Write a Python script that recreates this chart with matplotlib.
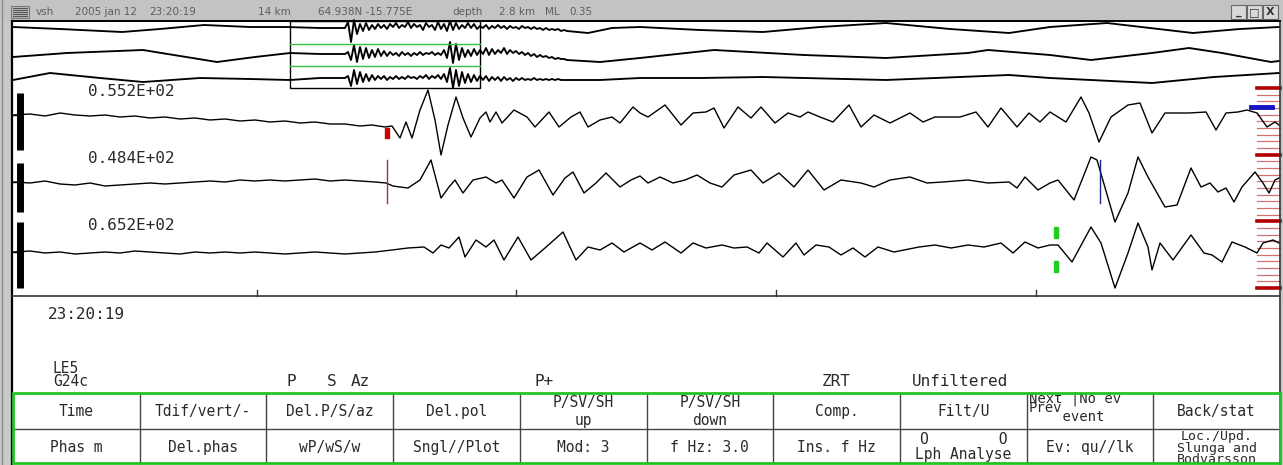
import numpy as np
import matplotlib.pyplot as plt
from matplotlib.patches import Rectangle

W, H = 1283, 465

# header line of the window
header_tokens = ['vsh', '2005 jan 12', '23:20:19', '14 km', '64.938N -15.775E',
                 'depth', '2.8 km', 'ML', '0.35']
header_x = [36, 75, 149, 258, 318, 452, 499, 545, 569]

# overview traces (screen column, screen row)
ov1_x = [13, 60, 122, 160, 204, 250, 286, 320, 339] + list(range(345, 570, 3)) + \
        [588, 612, 640, 700, 763, 820, 886, 950, 1009, 1050, 1107, 1150, 1193, 1240, 1279]
ov1_y = [27, 29, 32, 29, 25, 27, 27, 28, 28,
         28, 22, 42, 20, 34, 24, 31, 23, 30, 25, 29, 24, 28, 25, 29, 24, 27, 23, 28, 25,
         27, 22, 28, 24, 27, 25, 30, 23, 27, 25, 30, 22, 29, 24, 31, 21, 30, 23, 29, 25,
         28, 23, 28, 24, 29, 26, 28, 25, 29, 26, 28, 25, 28, 26, 29, 26, 28, 27, 29, 26,
         28, 27, 29, 27, 29, 28, 30, 28, 30, 29, 30, 29, 31, 30, 31,
         33, 28, 27, 30, 32, 27, 23, 29, 33, 27, 23, 28, 33, 29, 27]

ov2_x = [13, 67, 143, 180, 217, 255, 290, 320, 339] + list(range(345, 570, 3)) + \
        [600, 640, 714, 804, 886, 968, 988, 1050, 1091, 1152, 1189, 1222, 1271, 1279]
ov2_y = [57, 53, 50, 56, 62, 57, 53, 54, 54,
         54, 52, 60, 45, 62, 47, 59, 48, 58, 50, 57, 49, 56, 51, 56, 52, 55, 53, 56, 52,
         55, 53, 56, 53, 55, 52, 55, 53, 54, 52, 55, 53, 55, 50, 58, 42, 63, 44, 60, 48,
         57, 50, 56, 49, 55, 50, 54, 48, 55, 49, 54, 50, 53, 48, 54, 50, 53, 51, 54, 52,
         55, 53, 56, 54, 57, 55, 57, 56, 58, 57, 59, 58, 59, 59, 60,
         62, 58, 50, 55, 58, 53, 50, 55, 60, 53, 48, 53, 62, 61]

ov3_x = [13, 50, 100, 143, 200, 250, 290, 320, 339] + list(range(345, 570, 3)) + \
        [600, 640, 700, 763, 886, 1009, 1050, 1152, 1214, 1279]
ov3_y = [80, 73, 78, 82, 78, 79, 80, 78, 78,
         78, 76, 86, 70, 84, 72, 82, 74, 81, 75, 80, 76, 79, 76, 80, 77, 79, 76, 79, 77,
         79, 76, 78, 77, 79, 76, 78, 75, 79, 76, 78, 75, 79, 74, 82, 68, 88, 70, 86, 72,
         83, 74, 82, 75, 81, 76, 80, 76, 81, 77, 80, 77, 81, 77, 80, 78, 81, 78, 80, 78,
         80, 79, 80, 78, 80, 79, 80, 79, 80, 79, 80, 79, 80, 80, 80,
         80, 78, 78, 77, 80, 75, 78, 83, 77, 73]

# zoomed traces
trz_x = [14, 30, 45, 60, 75, 90, 105, 120, 135, 150, 165, 180, 195, 210, 225, 240, 255, 270,
         285, 300, 315, 330, 345, 360, 372, 385, 392, 400, 406, 412, 420, 428, 435, 441, 448,
         456, 463, 471, 480, 486, 490, 496, 502, 514, 527, 535, 549, 559, 571, 580, 588, 600,
         612, 620, 633, 640, 648, 665, 681, 693, 706, 714, 724, 738, 751, 761, 775, 788, 800,
         808, 820, 833, 849, 861, 874, 890, 910, 923, 935, 960, 976, 988, 1001, 1017, 1029,
         1040, 1050, 1066, 1081, 1089, 1099, 1111, 1128, 1140, 1152, 1165, 1189, 1206, 1216,
         1226, 1238, 1247, 1257, 1267, 1275, 1279]
trz_y = [115, 114, 116, 113, 115, 116, 115, 117, 116, 118, 117, 119, 118, 120, 119, 121, 120,
         122, 121, 123, 122, 124, 124, 126, 125, 127, 126, 138, 122, 138, 110, 90, 120, 155,
         125, 97, 118, 137, 118, 112, 122, 112, 123, 110, 117, 127, 112, 127, 117, 112, 127,
         120, 117, 123, 107, 113, 117, 105, 125, 113, 112, 108, 128, 107, 118, 107, 123, 113,
         117, 112, 117, 122, 105, 127, 115, 123, 113, 122, 117, 117, 112, 127, 108, 127, 113,
         122, 112, 122, 97, 113, 142, 117, 105, 103, 133, 113, 113, 112, 130, 113, 112, 110,
         113, 127, 122, 125]

trr_x = [14, 30, 45, 60, 75, 90, 105, 120, 135, 150, 165, 180, 195, 210, 225, 240, 255, 270,
         285, 300, 315, 330, 345, 360, 375, 386, 393, 400, 408, 420, 431, 441, 449, 455, 463,
         473, 486, 496, 502, 514, 527, 539, 553, 565, 573, 584, 596, 606, 620, 631, 640, 648,
         660, 673, 685, 697, 710, 722, 734, 751, 763, 779, 794, 808, 824, 841, 861, 874, 890,
         910, 927, 943, 968, 988, 1009, 1017, 1025, 1038, 1050, 1058, 1074, 1091, 1097, 1115,
         1128, 1138, 1148, 1165, 1177, 1191, 1201, 1210, 1218, 1226, 1234, 1242, 1255, 1263,
         1269, 1275, 1279]
trr_y = [182, 183, 181, 184, 185, 183, 186, 185, 184, 183, 184, 183, 182, 181, 182, 180, 181,
         180, 181, 180, 179, 181, 180, 181, 182, 183, 186, 187, 188, 180, 160, 198, 187, 180,
         193, 180, 177, 183, 180, 198, 177, 170, 195, 178, 172, 193, 183, 173, 187, 180, 176,
         183, 177, 183, 180, 175, 183, 187, 175, 170, 183, 173, 187, 170, 190, 180, 183, 187,
         180, 177, 183, 182, 180, 183, 182, 188, 177, 190, 183, 180, 200, 157, 160, 222, 193,
         157, 177, 207, 205, 168, 187, 183, 192, 188, 202, 187, 172, 183, 193, 180, 178]

trt_x = [14, 30, 45, 60, 75, 90, 105, 120, 135, 150, 165, 180, 195, 210, 225, 240, 255, 270,
         285, 300, 315, 330, 345, 360, 375, 392, 408, 424, 433, 441, 449, 459, 465, 476, 486,
         494, 504, 518, 531, 545, 563, 576, 588, 600, 612, 624, 640, 652, 665, 681, 693, 706,
         722, 734, 747, 759, 767, 783, 796, 804, 816, 829, 841, 853, 865, 878, 894, 919, 935,
         951, 968, 984, 1001, 1013, 1025, 1038, 1050, 1058, 1072, 1091, 1101, 1115, 1128, 1138,
         1148, 1152, 1160, 1173, 1191, 1204, 1212, 1222, 1232, 1245, 1257, 1263, 1273, 1279]
trt_y = [252, 251, 253, 252, 254, 253, 252, 253, 251, 252, 253, 254, 252, 253, 252, 253, 252,
         253, 254, 253, 252, 253, 254, 253, 252, 250, 248, 247, 253, 245, 248, 237, 257, 240,
         247, 240, 260, 237, 260, 248, 232, 260, 247, 250, 243, 252, 243, 250, 242, 253, 243,
         248, 245, 248, 247, 253, 243, 257, 243, 255, 245, 247, 255, 248, 257, 247, 252, 247,
         245, 248, 245, 247, 243, 253, 242, 248, 245, 245, 262, 227, 243, 288, 253, 223, 247,
         270, 243, 260, 235, 253, 255, 262, 242, 247, 253, 243, 240, 243]

amp_labels = ['0.552E+02', '0.484E+02', '0.652E+02']
time_ticks = [257, 516, 776, 1036]

buttons_row1 = ['Time', 'Tdif/vert/-', 'Del.P/S/az', 'Del.pol', 'P/SV/SH\nup',
                'P/SV/SH\ndown', 'Comp.', 'Filt/U', None, 'Back/stat']
buttons_row2 = ['Phas m', 'Del.phas', 'wP/wS/w', 'Sngl//Plot', 'Mod: 3', 'f Hz: 3.0',
                'Ins. f Hz', 'O        O\nLph Analyse', 'Ev: qu//lk', None]

MONO = 'DejaVu Sans Mono'
INK = '#2a2a2a'
FS_INFO = 11.5
FS_BTN = 10.5

fig = plt.figure(figsize=(W / 100, H / 100), dpi=100)
ax = fig.add_axes([0, 0, 1, 1])
ax.set_xlim(0, W)
ax.set_ylim(H, 0)
ax.axis('off')

# window chrome
ax.add_patch(Rectangle((0, 0), W, H, color='white', zorder=0))
ax.add_patch(Rectangle((0, 0), 11, H, color='#c9c9c9', zorder=1))
ax.plot([2, 2], [0, H], color='#8a8a8a', lw=1, zorder=2)
ax.add_patch(Rectangle((1281, 0), 2, H, color='#c9c9c9', zorder=1))
ax.add_patch(Rectangle((0, 0), W, 20, color='#c3c3c3', zorder=1))
ax.add_patch(Rectangle((11, 6), 18, 12, facecolor='#bdbdbd', edgecolor='#777777', lw=0.8, zorder=2))
for yy in [8.5, 10.5, 12.5, 14.5, 16.5]:
    ax.plot([13, 27], [yy, yy], color='#555555', lw=0.8, zorder=3)
for tok, tx in zip(header_tokens, header_x):
    ax.text(tx, 12, tok, family='DejaVu Sans', fontsize=7.5, color='#5e5e5e', va='center', zorder=3)
for bx, sym in zip([1231, 1247, 1263], ['_', '□', 'X']):
    ax.add_patch(Rectangle((bx, 5), 15, 14, facecolor='#d8d8d8', edgecolor='#666666', lw=0.8, zorder=2))
    ax.text(bx + 7.5, 12, sym, ha='center', va='center', fontsize=8, fontweight='bold',
            color='#333333', zorder=3)

# frame
ax.plot([12, 12], [21, H], color='black', lw=1.6, zorder=4)
ax.plot([1280, 1280], [21, H], color='#333333', lw=1.2, zorder=4)
ax.plot([12, 1280], [21, 21], color='black', lw=1.4, zorder=4)
ax.plot([12, 1280], [296, 296], color='#333333', lw=1.2, zorder=4)
for tx in time_ticks:
    ax.plot([tx, tx], [290, 296], color='#333333', lw=1, zorder=4)

# overview traces and zoom window
for xs, ys in [(ov1_x, ov1_y), (ov2_x, ov2_y), (ov3_x, ov3_y)]:
    ax.plot(xs, ys, color='black', lw=1.35, zorder=3)
ax.add_patch(Rectangle((290, 21), 190, 67, fill=False, edgecolor='black', lw=1, zorder=4))
for gy in [44, 66]:
    ax.plot([290, 480], [gy, gy], color='#3cbf3c', lw=1, zorder=4)

# channel markers on the right
for i in range(31):
    yy = 88 + i * 200 / 30
    if i % 10 == 0:
        ax.plot([1257, 1280], [yy, yy], color='#b00000', lw=2.6, zorder=2)
    else:
        ax.plot([1257, 1280], [yy, yy], color='#d07070', lw=0.9, zorder=2)
ax.plot([1251, 1272], [107, 107], color='#1414c0', lw=3.5, zorder=5)

# zoomed traces
for xs, ys in [(trz_x, trz_y), (trr_x, trr_y), (trt_x, trt_y)]:
    ax.plot(xs, ys, color='black', lw=1, zorder=3)
for lab, ly, (b0, b1), base in zip(amp_labels, [91, 158, 225],
                                  [(93, 150), (163, 212), (222, 288)], [115, 182, 252]):
    ax.text(88, ly, lab, family=MONO, fontsize=FS_INFO, color=INK, va='center')
    ax.plot([19.5, 19.5], [b0, b1], color='black', lw=5, solid_capstyle='butt', zorder=4)
    ax.plot([12, 16], [base, base], color='black', lw=1, zorder=4)

# phase marks
ax.add_patch(Rectangle((385, 128), 4, 10, color='#cc0000', zorder=5))
ax.plot([387, 387], [160, 203], color='#b03030', lw=1, zorder=5)
ax.plot([1100, 1100], [160, 203], color='#202090', lw=1, zorder=5)
ax.add_patch(Rectangle((1054, 227), 4, 11, color='#22cc22', zorder=5))
ax.add_patch(Rectangle((1054, 261), 4, 11, color='#22cc22', zorder=5))

# info area
ax.text(48, 314, '23:20:19', family=MONO, fontsize=FS_INFO, color=INK, va='center')
ax.text(53, 375, 'LE5\nG24c', family=MONO, fontsize=FS_BTN, color=INK, va='center',
        linespacing=0.85)
for tx, tok in [(286, 'P'), (327, 'S'), (351, 'Az'), (535, 'P+'), (822, 'ZRT'), (912, 'Unfiltered')]:
    ax.text(tx, 381, tok, family=MONO, fontsize=FS_INFO, color=INK, va='center')

# button table
col_edges = np.linspace(13, 1280, 11)
ax.add_patch(Rectangle((13, 393), 1267, 70, fill=False, edgecolor='#22c322', lw=2, zorder=5))
ax.plot([13, 1280], [429, 429], color='#444444', lw=1, zorder=4)
for cx in col_edges[1:-1]:
    ax.plot([cx, cx], [393, 463], color='#444444', lw=1, zorder=4)
centers = (col_edges[:-1] + col_edges[1:]) / 2
for c, lab in zip(centers, buttons_row1):
    if lab is not None:
        ax.text(c, 411, lab, family=MONO, fontsize=FS_BTN, color=INK, ha='center',
                va='center', linespacing=1.25)
for c, lab in zip(centers, buttons_row2):
    if lab is not None:
        ax.text(c, 447, lab, family=MONO, fontsize=FS_BTN, color=INK, ha='center',
                va='center', linespacing=1.0)
# cells with their own line layout
ax.text(1029, 408, 'Next |No ev\nPrev\n    event', family=MONO, fontsize=10, color=INK,
        va='center', linespacing=0.55)
ax.text(centers[9], 448, 'Loc./Upd.\nSlunga and\nBodvarsson', family=MONO, fontsize=9.5,
        color=INK, ha='center', va='center', linespacing=0.82)

fig.savefig('out.png', dpi=100)
